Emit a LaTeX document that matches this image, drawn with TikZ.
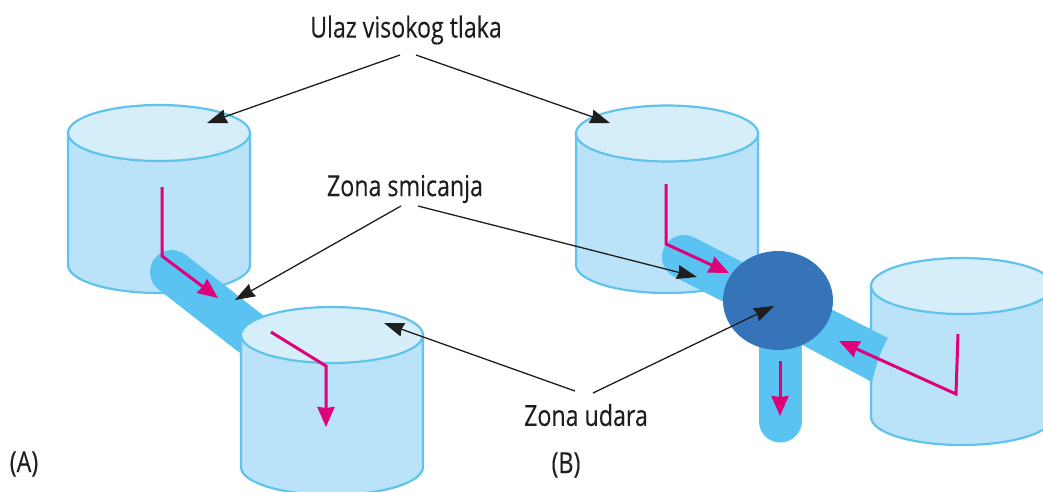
\documentclass[tikz,border=0pt]{standalone}
\usepackage{fontspec}
\setmainfont[FakeStretch=0.8,FakeBold=0.25]{Open Sans}
\usetikzlibrary{arrows.meta}
\definecolor{cylbody}{HTML}{BAE3F9}
\definecolor{cyltop}{HTML}{D6EDFA}
\definecolor{cyledge}{HTML}{5FC3EB}
\definecolor{pipecol}{HTML}{5BC3F1}
\definecolor{impact}{HTML}{3574B9}
\definecolor{flowcol}{HTML}{E0007A}
\definecolor{inkcol}{HTML}{1E1E1E}
\newcommand{\cylinderat}[3]{% cx, top centre y, bottom centre y
  \path[cylbody shape] (#1-91,#2) -- (#1-91,#3) arc[start angle=180,end angle=0,x radius=91,y radius=28] -- (#1+91,#2) -- cycle;
  \path[cyltop shape] (#1,#2) ellipse[x radius=91,y radius=28];
}
\tikzset{
  cylbody shape/.style={draw=cyledge,fill=cylbody,line width=2.2pt},
  cyltop shape/.style={draw=cyledge,fill=cyltop,line width=2.2pt},
  pipe/.style={draw=pipecol,line width=44pt},
  flow/.style={draw=flowcol,line width=3pt,-{Stealth[length=20pt,width=17pt,inset=1pt]}},
  callout/.style={draw=inkcol,line width=1.3pt,-{Stealth[length=20pt,width=14pt,inset=1.5pt]}},
  lbl/.style={inner sep=0pt,font=\fontsize{29}{32}\selectfont,text=inkcol},
}
\begin{document}
\begin{tikzpicture}[x=1pt,y=-1pt]
\useasboundingbox (0,0) rectangle (1043,491);
\clip (0,0) rectangle (1043,491);
% A
\cylinderat{159}{133}{265}
\draw[pipe,line cap=round] (172,272) -- (250,333);
\cylinderat{332}{335}{467}
% B
\cylinderat{667}{133.5}{265}
\draw[pipe,line cap=round] (684,257) -- (778,305);
\cylinderat{962}{286}{417}
\path[fill=pipecol] (825,306) -- (888,338) .. controls (880,352) and (876,365) .. (872,382) -- (795,341) -- cycle;
\draw[pipe,line width=43pt,line cap=round] (780,421) -- (780,330);
\node[circle,fill=impact,minimum size=10pt,inner sep=0pt,xscale=11,yscale=9.9] (impactzone) at (778,300.5) {};
% flows
\coordinate (f1a) at (162,187); \coordinate (f1b) at (162,256); \coordinate (f1c) at (218,298);
\coordinate (f2a) at (271,332); \coordinate (f2b) at (326,366); \coordinate (f2c) at (326,427);
\coordinate (f3a) at (666,184); \coordinate (f3b) at (666,244); \coordinate (f3c) at (729,273);
\coordinate (f4a) at (780,361); \coordinate (f4b) at (780,416);
\coordinate (f5a) at (958,334); \coordinate (f5b) at (956,394); \coordinate (f5c) at (839,341);
\draw[flow] (f1a) -- (f1b) -- (f1c);
\draw[flow] (f2a) -- (f2b) -- (f2c);
\draw[flow] (f3a) -- (f3b) -- (f3c);
\draw[flow] (f4a) -- (f4b);
\draw[flow] (f5a) -- (f5b) -- (f5c);
% labels
\node[lbl] (ulaz) at (406,30) {Ulaz visokog tlaka};
\node[lbl] (smic) at (405,189) {Zona smicanja};
\node[lbl] (udar) at (586,415) {Zona udara};
\node[lbl] (la) at (24,464) {(A)};
\node[lbl] (lb) at (566,465) {(B)};
% callouts
\coordinate (u1) at (400,55); \coordinate (u1t) at (207,123);
\coordinate (u2) at (416,55); \coordinate (u2t) at (610,123);
\coordinate (s1) at (401,206); \coordinate (s1t) at (235,300);
\coordinate (s2) at (418,206); \coordinate (s2t) at (697,277);
\coordinate (d1) at (575,391); \coordinate (d1t) at (384,323);
\coordinate (d2) at (593,393); \coordinate (d2t) at (774,306);
\draw[callout] (u1) -- (u1t);
\draw[callout] (u2) -- (u2t);
\draw[callout] (s1) -- (s1t);
\draw[callout] (s2) -- (s2t);
\draw[callout] (d1) -- (d1t);
\draw[callout] (d2) -- (d2t);
\end{tikzpicture}
\end{document}
